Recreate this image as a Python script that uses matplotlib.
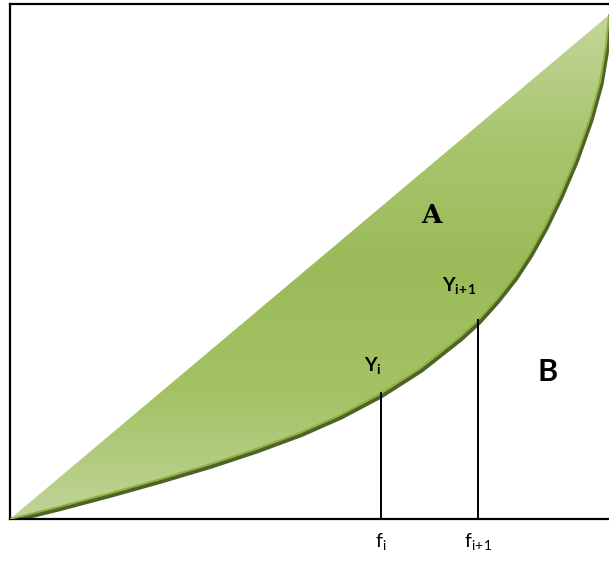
import numpy as np
import matplotlib
matplotlib.use("Agg")
from matplotlib import pyplot as plt
from matplotlib.patches import Polygon
from matplotlib import transforms
from matplotlib.colors import LinearSegmentedColormap

plt.rcParams['font.family'] = ['Lato', 'DejaVu Sans']
plt.rcParams['mathtext.fontset'] = 'custom'
plt.rcParams['mathtext.rm'] = 'Lato'
plt.rcParams['mathtext.bf'] = 'Lato:bold'
plt.rcParams['mathtext.default'] = 'regular'

# lorenz curve (share of population vs share of income)
lorenz_x = [0.0, 0.0835, 0.1669, 0.2504, 0.3339, 0.409, 0.4841, 0.5509, 0.6177,
            0.6845, 0.7513, 0.7813, 0.813, 0.8431, 0.8681, 0.8932, 0.9182,
            0.9432, 0.9683, 0.985, 0.995, 1.0]
lorenz_y = [0.0, 0.0248, 0.0511, 0.0789, 0.1086, 0.1381, 0.1711, 0.2061, 0.2481,
            0.2989, 0.3616, 0.3944, 0.4365, 0.4821, 0.5278, 0.5813, 0.6429,
            0.7123, 0.7956, 0.8671, 0.9385, 1.0]

# the two marked positions on the x axis
f_positions = [0.619, 0.781]
f_labels = [r'$f_i$', r'$f_{i\!+\!1}$']
y_labels = [r'$\mathbf{Y}_\mathbf{i}$', r'$\mathbf{Y}_{\mathbf{i\!+\!1}}$']

fig = plt.figure(figsize=(6.09, 5.63), dpi=100)
ax = fig.add_axes([10 / 609, 44 / 563, 600 / 609, 515 / 563])
ax.set_xlim(0, 600 / 599)
ax.set_ylim(0, 515 / 504)
ax.set_xticks([])
ax.set_yticks([])
ax.spines['right'].set_visible(False)
for s in ['left', 'top', 'bottom']:
    ax.spines[s].set_linewidth(1.6)

# area between the line of equality and the lorenz curve
poly_pts = [(0, 0), (1, 1)] + list(zip(lorenz_x[::-1], lorenz_y[::-1]))
area = Polygon(poly_pts, closed=True, facecolor='none', edgecolor='none')
ax.add_patch(area)

green = LinearSegmentedColormap.from_list(
    'grn', ['#c3d69b', '#a8c56e', '#9bbb59', '#a4c264', '#c0d498'])
grad = np.linspace(0, 1, 256).reshape(-1, 1)
img = ax.imshow(grad, cmap=green, extent=[0, 1, 0, 1], origin='upper',
                aspect='auto', zorder=1)
img.set_clip_path(area)

# shadow + edge of the curve
shadow = transforms.offset_copy(ax.transData, fig=fig, x=1.5, y=-2.2, units='dots')
ax.plot(lorenz_x, lorenz_y, color='#4f6228', lw=3.0, transform=shadow,
        solid_capstyle='butt', solid_joinstyle='round', zorder=2)
ax.plot(lorenz_x, lorenz_y, color='#8db33f', lw=1.4,
        solid_joinstyle='round', zorder=3)

# vertical lines at f_i and f_i+1
for fx, fl in zip(f_positions, f_labels):
    fy = np.interp(fx, lorenz_x, lorenz_y)
    ax.plot([fx, fx], [0, fy], color='black', lw=1.4, zorder=4)
    ax.text(fx, -0.045, fl, ha='center', va='center', fontsize=14,
            clip_on=False)

ax.text(0.605, 0.305, y_labels[0], ha='center', va='center', fontsize=14)
ax.text(0.750, 0.464, y_labels[1], ha='center', va='center', fontsize=14)
ax.text(0.703, 0.603, 'A', ha='center', va='center', fontsize=19,
        fontweight='bold', family=['DejaVu Serif'])
ax.text(0.898, 0.292, 'B', ha='center', va='center', fontsize=22,
        fontweight='bold')

plt.savefig('out.png', dpi=100)
